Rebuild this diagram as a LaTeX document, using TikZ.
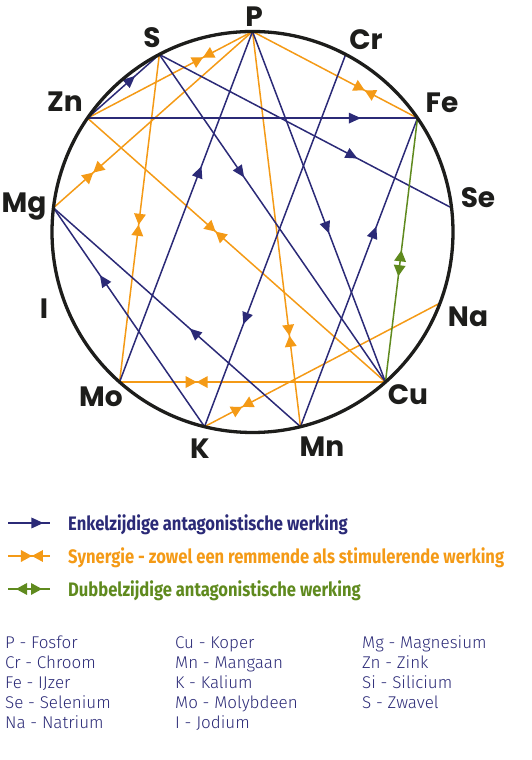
\documentclass[tikz,border=0pt]{standalone}
\usepackage{fontspec}
\usetikzlibrary{decorations.markings}
\newfontfamily\elfont{Poppins}
\newfontfamily\legfont{Fira Sans}
\newfontfamily\listfont{Fira Sans Light}
\definecolor{antblue}{HTML}{2B2A77}
\definecolor{synorange}{HTML}{F49A16}
\definecolor{dubgreen}{HTML}{5F8A1E}
\definecolor{ink}{HTML}{1D1D1B}
\tikzset{
  enkel/.style={antblue, line width=1.5pt, postaction={decorate}, decoration={markings, mark=at position #1 with {\fill (6pt,0) -- (-6pt,5.5pt) -- (-6pt,-5.5pt) -- cycle;}}},
  syn/.style={synorange, line width=1.5pt, postaction={decorate}, decoration={markings, mark=at position #1 with {\fill (0,0) -- (-11pt,6pt) -- (-11pt,-6pt) -- cycle; \fill (0,0) -- (11pt,6pt) -- (11pt,-6pt) -- cycle;}}},
  dubbel/.style={dubgreen, line width=1.5pt, postaction={decorate}, decoration={markings, mark=at position #1 with {\fill (-13pt,0) -- (-2pt,6pt) -- (-2pt,-6pt) -- cycle; \fill (13pt,0) -- (2pt,6pt) -- (2pt,-6pt) -- cycle;}}},
  element/.style={anchor=base, inner sep=0pt, ink, font=\elfont\bfseries\fontsize{28}{32}\selectfont},
  legtext/.style={anchor=base west, inner sep=0pt, font=\legfont\bfseries\fontsize{19.5}{22}\selectfont},
  listtext/.style={anchor=base west, inner sep=0pt, antblue, font=\listfont\fontsize{17}{20}\selectfont}
}
\begin{document}
\begin{tikzpicture}[x=1pt, y=1pt]
\useasboundingbox (0,0) rectangle (532,760);
\foreach \n [count=\i from 0] in {P,Cr,Fe,Se,Na,Cu,Mn,K,Mo,I,Mg,Zn,S}
  \coordinate (\n) at ([shift={(252.5,528)}]{90-\i*360/13}:200.5);
%Synergie
\draw [syn=0.7] (Zn) -- (P);
\draw [syn=0.2] (Mg) -- (P);
\draw [syn=0.52] (S) -- (Mo);
\draw [syn=0.43] (Zn) -- (Cu);
\draw [syn=0.68] (P) -- (Fe);
\draw [syn=0.77] (P) -- (Mn);
\draw [syn=0.29] (Mo) -- (Cu);
\draw [syn=0.16] (K) -- (Na);
%Enkelzijdig
\draw [enkel=0.6] (Zn) -- (S);
\draw [enkel=0.81] (Zn) -- (Fe);
\draw [enkel=0.66] (S) -- (Se);
\draw [enkel=0.36] (S) -- (Cu);
\draw [enkel=0.6] (Mo) -- (P);
\draw [enkel=0.56] (P) -- (Cu);
\draw [enkel=0.71] (Cr) -- (K);
\draw [enkel=0.63] (Mn) -- (Fe);
\draw [enkel=0.67] (K) -- (Mg);
\draw [enkel=0.43] (Mn) -- (Mg);
%Dubbelzijdig
\draw [dubbel=0.55] (Fe) -- (Cu);
\draw [ink, line width=3.3pt] (252.5,528) circle (200.5);
%Text
\node [element] (lP) at (254,733) {P};
\node [element] (lCr) at (366,710) {Cr};
\node [element] (lFe) at (442,647) {Fe};
\node [element] (lSe) at (478,552) {Se};
\node [element] (lNa) at (468,433) {Na};
\node [element] (lCu) at (408,355) {Cu};
\node [element] (lMn) at (322,303) {Mn};
\node [element] (lK) at (200,301) {K};
\node [element] (lMo) at (101,353) {Mo};
\node [element] (lI) at (44,441) {I};
\node [element] (lMg) at (24,547) {Mg};
\node [element] (lZn) at (65,648) {Zn};
\node [element] (lS) at (152,712) {S};
%Legenda
\coordinate (e1) at (8,237);
\coordinate (e2) at (50,237);
\coordinate (s1) at (8,204);
\coordinate (s2) at (50,204);
\coordinate (d1) at (8,171);
\coordinate (d2) at (50,171);
\draw [enkel=0.7] (e1) -- (e2);
\draw [syn=0.57] (s1) -- (s2);
\draw [dubbel=0.5] (d1) -- (d2);
\node [legtext, antblue] (tEnkel) at (68,229) {\scalebox{0.85}[1]{Enkelzijdige antagonistische werking}};
\node [legtext, synorange] (tSyn) at (68,196) {\scalebox{0.85}[1]{Synergie - zowel een remmende als stimulerende werking}};
\node [legtext, dubgreen] (tDub) at (68,163) {\scalebox{0.85}[1]{Dubbelzijdige antagonistische werking}};
\node [listtext] (nP) at (5,111) {P - Fosfor};
\node [listtext] (nCr) at (5,91) {Cr - Chroom};
\node [listtext] (nFe) at (5,71) {Fe - IJzer};
\node [listtext] (nSe) at (5,51) {Se - Selenium};
\node [listtext] (nNa) at (5,31) {Na - Natrium};
\node [listtext] (nCu) at (175,111) {Cu - Koper};
\node [listtext] (nMn) at (175,91) {Mn - Mangaan};
\node [listtext] (nK) at (175,71) {K - Kalium};
\node [listtext] (nMo) at (175,51) {Mo - Molybdeen};
\node [listtext] (nI) at (175,31) {I - Jodium};
\node [listtext] (nMg) at (362,111) {Mg - Magnesium};
\node [listtext] (nZn) at (362,91) {Zn - Zink};
\node [listtext] (nSi) at (362,71) {Si - Silicium};
\node [listtext] (nS) at (362,51) {S - Zwavel};
\end{tikzpicture}
\end{document}
